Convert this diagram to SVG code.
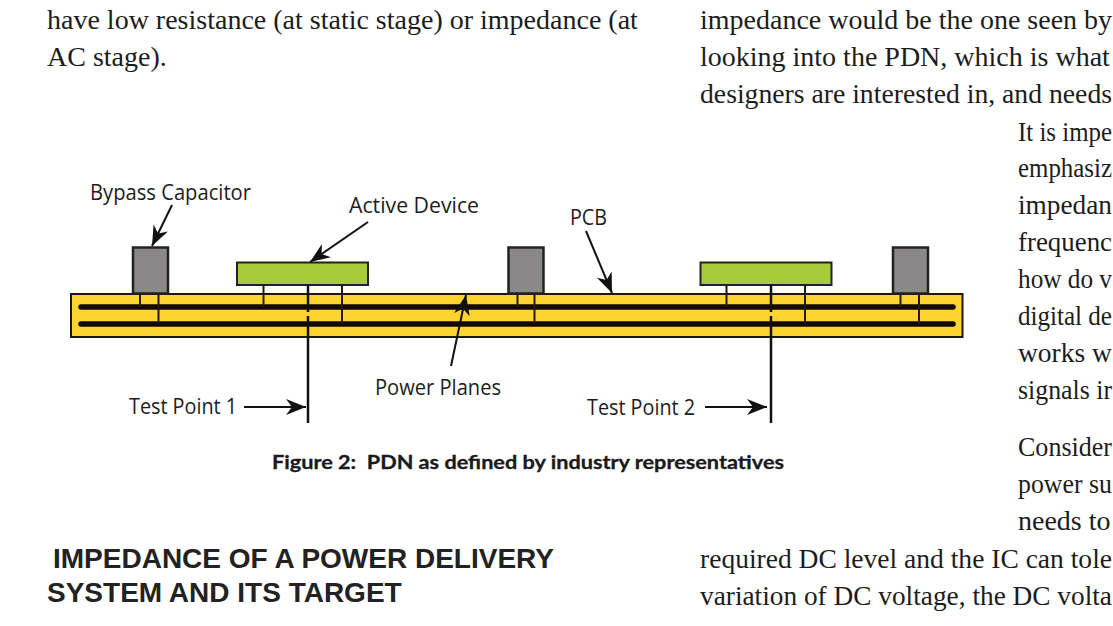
<svg xmlns="http://www.w3.org/2000/svg" width="1113" height="626" viewBox="0 0 1113 626">
<style>
.body{font:28px "Liberation Serif",serif;fill:#1c1c1c}
.lab{font:21.500px "Open Sans",sans-serif;fill:#1c1c1c}
.cap{font:bold 18px "Lato",sans-serif;fill:#1a1a1a;white-space:pre;stroke:#1a1a1a;stroke-width:.3}
.head{font:bold 28px "Liberation Sans",sans-serif;fill:#222}
.pcb{fill:#fdd430;stroke:#1a1a10;stroke-width:2}
.plane{stroke:#140800;stroke-width:5.500;stroke-linecap:round;fill:none}
.capb{fill:#8a8888;stroke:#222;stroke-width:2.500}
.dev{fill:#a8cb3c;stroke:#222;stroke-width:2}
.pin{stroke:#221a10;stroke-width:2;fill:none}
.pint{stroke:#111;stroke-width:2.500;fill:none}
.arr{stroke:#111;stroke-width:2;fill:none;marker-end:url(#ah)}
</style>
<defs><marker id="ah" markerUnits="userSpaceOnUse" markerWidth="22" markerHeight="18" refX="20" refY="8" orient="auto"><path d="M0 0L20 8L0 16L6 8Z" fill="#111"/></marker></defs>
<rect width="1113" height="626" fill="#fff"/>
<g id="body-text">
<text class="body" x="47" y="29">have low resistance (at static stage) or impedance (at</text>
<text class="body" x="47" y="66">AC stage).</text>
<text class="body" x="700" y="29">impedance would be the one seen by</text>
<text class="body" x="700" y="66">looking into the PDN, which is what</text>
<text class="body" x="700" y="103" textLength="412" lengthAdjust="spacingAndGlyphs">designers are interested in, and needs</text>
<text class="body" x="1018" y="141" textLength="94" lengthAdjust="spacingAndGlyphs">It is impe</text>
<text class="body" x="1018" y="177" textLength="94" lengthAdjust="spacingAndGlyphs">emphasiz</text>
<text class="body" x="1018" y="214" textLength="94" lengthAdjust="spacingAndGlyphs">impedan</text>
<text class="body" x="1018" y="251" textLength="94" lengthAdjust="spacingAndGlyphs">frequenc</text>
<text class="body" x="1018" y="288" textLength="94" lengthAdjust="spacingAndGlyphs">how do v</text>
<text class="body" x="1018" y="325" textLength="94" lengthAdjust="spacingAndGlyphs">digital de</text>
<text class="body" x="1018" y="362" textLength="94" lengthAdjust="spacingAndGlyphs">works w</text>
<text class="body" x="1018" y="399" textLength="94" lengthAdjust="spacingAndGlyphs">signals ir</text>
<text class="body" x="1018" y="456" textLength="94" lengthAdjust="spacingAndGlyphs">Consider</text>
<text class="body" x="1018" y="493" textLength="94" lengthAdjust="spacingAndGlyphs">power su</text>
<text class="body" x="1018" y="530">needs to</text>
<text class="body" x="700" y="568" textLength="412" lengthAdjust="spacingAndGlyphs">required DC level and the IC can tole</text>
<text class="body" x="700" y="605" textLength="412" lengthAdjust="spacingAndGlyphs">variation of DC voltage, the DC volta</text>
</g>
<g id="pcb"><rect class="pcb" x="71" y="294" width="891.500" height="43"/></g>
<g id="power-planes">
<path class="plane" d="M81 307H953M81 324H953"/>
</g>
<g id="cap1"><rect class="capb" x="133" y="247.500" width="35" height="46"/><path class="pin" d="M140 294V307M158.500 294V324"/></g>
<g id="cap2"><rect class="capb" x="508.500" y="247.500" width="35" height="46"/><path class="pin" d="M517.500 294V307M534.500 294V324"/></g>
<g id="cap3"><rect class="capb" x="893" y="247.500" width="35" height="46"/><path class="pin" d="M900.500 294V307M919 294V324"/></g>
<g id="dev1"><rect class="dev" x="237" y="262.500" width="131" height="22.500"/><path class="pin" d="M263.500 285V307M342 285V324"/></g>
<g id="dev2"><rect class="dev" x="700.500" y="262.500" width="131" height="22.500"/><path class="pin" d="M726.500 285V307M805 285V324"/></g>
<g id="connectors">
<path class="pint" d="M308 285V312M308 316V423"/>
<path class="pint" d="M771 285V312M771 316V423"/>
<path class="arr" d="M172 205L152 246"/>
<path class="arr" d="M368 222L310 262"/>
<path class="arr" d="M586 231L612 293"/>
<path class="arr" d="M451 366L466 295"/>
<path class="arr" d="M244 407H306"/>
<path class="arr" d="M705 407H767"/>
</g>
<g id="labels">
<text class="lab" x="90" y="200" textLength="161" lengthAdjust="spacingAndGlyphs">Bypass Capacitor</text>
<text class="lab" x="349" y="213" textLength="130" lengthAdjust="spacingAndGlyphs">Active Device</text>
<text class="lab" x="570" y="225" textLength="37" lengthAdjust="spacingAndGlyphs">PCB</text>
<text class="lab" x="375" y="395" textLength="126" lengthAdjust="spacingAndGlyphs">Power Planes</text>
<text class="lab" x="129" y="414" textLength="108" lengthAdjust="spacingAndGlyphs">Test Point 1</text>
<text class="lab" x="587" y="415" textLength="108" lengthAdjust="spacingAndGlyphs">Test Point 2</text>
</g>
<text class="cap" x="272" y="469" textLength="512" lengthAdjust="spacingAndGlyphs">Figure 2:  PDN as defined by industry representatives</text>
<g id="heading">
<text class="head" x="53" y="568">IMPEDANCE OF A POWER DELIVERY</text>
<text class="head" x="47" y="602">SYSTEM AND ITS TARGET</text>
</g>
</svg>
